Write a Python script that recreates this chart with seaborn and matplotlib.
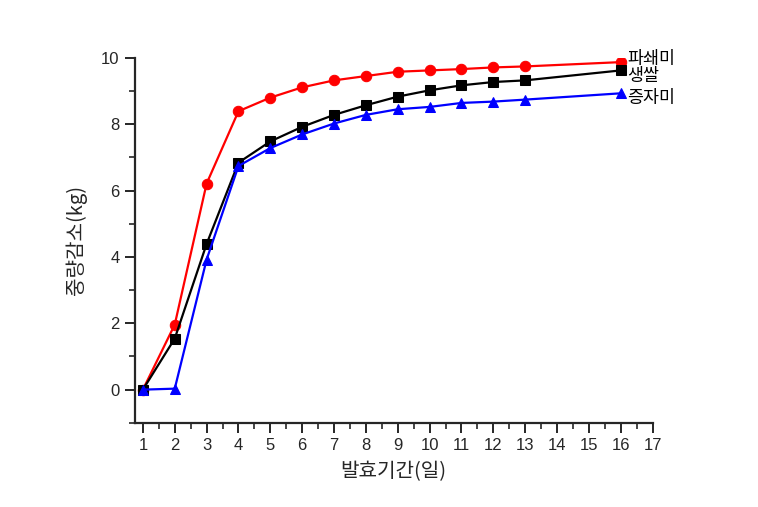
import matplotlib
matplotlib.use("Agg")
import matplotlib.pyplot as plt
import seaborn as sns
import pandas as pd
from matplotlib.ticker import MultipleLocator

days = [1, 2, 3, 4, 5, 6, 7, 8, 9, 10, 11, 12, 13, 16]
pasoemi = [0.0, 1.96, 6.21, 8.39, 8.80, 9.11, 9.32, 9.45, 9.58, 9.62, 9.66, 9.71, 9.74, 9.87]
saengssal = [0.0, 1.54, 4.39, 6.84, 7.48, 7.92, 8.28, 8.57, 8.83, 9.02, 9.17, 9.27, 9.32, 9.62]
jeungjami = [0.0, 0.03, 3.92, 6.74, 7.28, 7.69, 8.02, 8.28, 8.45, 8.52, 8.64, 8.68, 8.74, 8.93]
series_names = ["파쇄미", "생쌀", "증자미"]
x_label = "발효기간(일)"
y_label = "중량감소(kg)"

sns.set_style("ticks")
plt.rcParams['font.family'] = ['Liberation Sans', 'Noto Sans CJK KR', 'DejaVu Sans']

fig = plt.figure(figsize=(7.58, 5.07), dpi=100)
ax = fig.add_axes([0.178, 0.166, 0.683, 0.720])

specs = [
    (pasoemi, series_names[0], "#ff0000", "o"),
    (saengssal, series_names[1], "#000000", "s"),
    (jeungjami, series_names[2], "#0000ff", "^"),
]
for vals, name, color, marker in specs:
    df = pd.DataFrame({"day": days, "val": vals})
    sns.lineplot(data=df, x="day", y="val", ax=ax, color=color, marker=marker,
                 markersize=7.5, markeredgecolor=color, linewidth=1.6, legend=False)

# right-side labels
label_y = [9.95, 9.45, 8.8]
for (vals, name, color, marker), ly in zip(specs, label_y):
    ax.text(16.2, ly, name, fontsize=12.5, va="center", ha="left", color="black",
            family=['Noto Sans CJK KR', 'DejaVu Sans'], clip_on=False)

ax.set_xlim(0.75, 17)
ax.set_ylim(-1, 10)
ax.xaxis.set_major_locator(MultipleLocator(1))
ax.xaxis.set_minor_locator(MultipleLocator(0.5))
ax.yaxis.set_major_locator(MultipleLocator(2))
ax.yaxis.set_minor_locator(MultipleLocator(1))
ax.set_yticks([0, 2, 4, 6, 8, 10])
ax.tick_params(axis="both", which="major", direction="out", length=7, width=1.4, labelsize=12, pad=4)
ax.tick_params(axis="both", which="minor", direction="out", length=4, width=1.2)
for s in ["left", "bottom"]:
    ax.spines[s].set_linewidth(1.6)
sns.despine(ax=ax)

ax.set_xlabel(x_label, fontsize=14.5, family=['Noto Sans CJK KR', 'DejaVu Sans'], labelpad=6)
ax.set_ylabel(y_label, fontsize=14.5, family=['Noto Sans CJK KR', 'DejaVu Sans'], labelpad=10)

fig.savefig("out.png", dpi=100)
